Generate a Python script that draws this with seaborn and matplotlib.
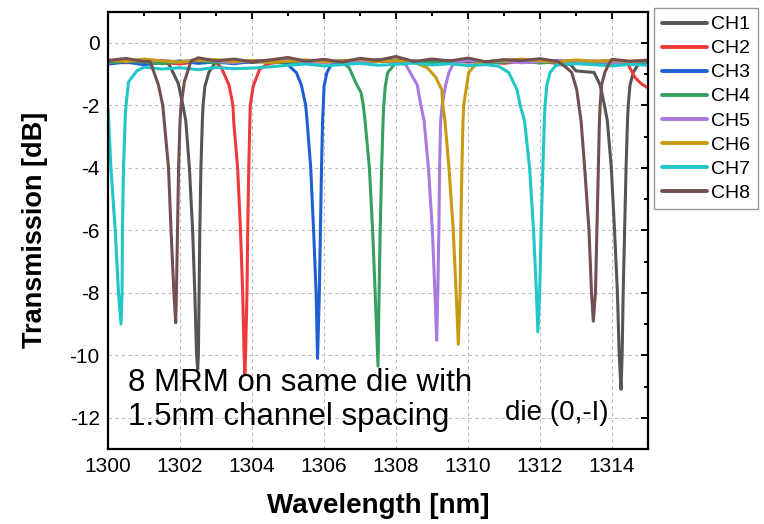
import numpy as np
import pandas as pd
import matplotlib
matplotlib.use("Agg")
import matplotlib.pyplot as plt
from matplotlib.ticker import MultipleLocator
import seaborn as sns

channels = ["CH1", "CH2", "CH3", "CH4", "CH5", "CH6", "CH7", "CH8"]
colors = ["#555555", "#ee3a3a", "#1f5fd4", "#36a060", "#a97ae0", "#c89a12", "#20c6c8", "#73504f"]

# baseline (out of resonance) transmission, sampled every 0.5 nm from 1300 to 1315
base_x = [1300.0 + 0.5 * i for i in range(31)]
base_y = {
    "CH1": [-0.62, -0.58, -0.66, -0.60, -0.55, -0.64, -0.60, -0.57, -0.63, -0.59, -0.66, -0.56, -0.61, -0.58, -0.64, -0.60,
            -0.55, -0.62, -0.59, -0.65, -0.58, -0.61, -0.56, -0.63, -0.60, -0.66, -0.62, -0.70, -0.65, -0.62, -0.60],
    "CH2": [-0.60, -0.64, -0.57, -0.62, -0.68, -0.59, -0.63, -0.55, -0.61, -0.66, -0.58, -0.62, -0.57, -0.64, -0.60, -0.56,
            -0.63, -0.59, -0.65, -0.57, -0.62, -0.60, -0.66, -0.58, -0.61, -0.64, -0.57, -0.63, -0.60, -0.62, -0.65],
    "CH3": [-0.68, -0.62, -0.70, -0.63, -0.58, -0.66, -0.61, -0.67, -0.60, -0.56, -0.63, -0.59, -0.65, -0.57, -0.61, -0.54,
            -0.60, -0.64, -0.57, -0.62, -0.58, -0.66, -0.60, -0.55, -0.63, -0.59, -0.64, -0.61, -0.57, -0.63, -0.60],
    "CH4": [-0.64, -0.59, -0.62, -0.67, -0.60, -0.57, -0.65, -0.61, -0.58, -0.63, -0.60, -0.66, -0.59, -0.62, -0.56, -0.64,
            -0.60, -0.58, -0.63, -0.61, -0.57, -0.64, -0.62, -0.59, -0.65, -0.60, -0.57, -0.62, -0.66, -0.60, -0.63],
    "CH5": [-0.58, -0.54, -0.60, -0.56, -0.62, -0.52, -0.59, -0.63, -0.57, -0.61, -0.55, -0.60, -0.64, -0.58, -0.62, -0.56,
            -0.61, -0.57, -0.63, -0.59, -0.55, -0.62, -0.58, -0.64, -0.60, -0.56, -0.61, -0.58, -0.63, -0.60, -0.57],
    "CH6": [-0.55, -0.60, -0.52, -0.58, -0.62, -0.56, -0.54, -0.60, -0.57, -0.63, -0.59, -0.55, -0.61, -0.58, -0.53, -0.60,
            -0.57, -0.62, -0.56, -0.59, -0.54, -0.60, -0.57, -0.52, -0.58, -0.61, -0.55, -0.59, -0.56, -0.60, -0.55],
    "CH7": [-0.80, -0.82, -0.78, -0.84, -0.80, -0.86, -0.79, -0.83, -0.81, -0.77, -0.72, -0.68, -0.74, -0.70, -0.66, -0.72,
            -0.69, -0.65, -0.71, -0.67, -0.73, -0.70, -0.66, -0.72, -0.68, -0.71, -0.67, -0.70, -0.74, -0.69, -0.72],
    "CH8": [-0.57, -0.50, -0.60, -0.53, -0.62, -0.48, -0.58, -0.52, -0.61, -0.55, -0.47, -0.59, -0.53, -0.62, -0.50, -0.56,
            -0.44, -0.60, -0.52, -0.58, -0.49, -0.61, -0.54, -0.57, -0.51, -0.60, -0.55, -0.62, -0.53, -0.59, -0.56],
}

# resonance dips: (wavelength list, transmission list) per dip
dips = {
    "CH1": [
        ([1301.70, 1301.95, 1302.08, 1302.16, 1302.26, 1302.35, 1302.41, 1302.46, 1302.49, 1302.51, 1302.53, 1302.55,
          1302.58, 1302.62, 1302.64, 1302.69, 1302.80, 1302.97],
         [-0.70, -1.30, -2.00, -2.50, -4.00, -6.00, -8.00, -10.00, -10.45, -10.00, -8.00, -6.00,
          -4.00, -2.50, -2.00, -1.40, -0.95, -0.65]),
        ([1312.85, 1313.00, 1313.50, 1313.67, 1313.79, 1313.87, 1313.98, 1314.07, 1314.15, 1314.20, 1314.25, 1314.28,
          1314.31, 1314.35, 1314.39, 1314.43, 1314.45, 1314.50, 1314.59, 1314.72],
         [-0.70, -0.90, -0.95, -1.35, -2.00, -2.50, -4.00, -6.00, -8.00, -10.00, -11.09, -10.00,
          -8.00, -6.00, -4.00, -2.50, -2.00, -1.35, -0.95, -0.70]),
    ],
    "CH2": [
        ([1303.15, 1303.36, 1303.47, 1303.49, 1303.60, 1303.68, 1303.74, 1303.78, 1303.80, 1303.82, 1303.86, 1303.88,
          1303.91, 1303.94, 1303.95, 1304.03, 1304.21, 1304.40],
         [-0.80, -1.35, -2.00, -2.50, -4.00, -6.00, -8.00, -10.00, -10.60, -10.00, -8.00, -6.00,
          -4.00, -2.50, -2.00, -1.40, -0.85, -0.70]),
        ([1314.45, 1314.63, 1314.80, 1315.00],
         [-0.70, -1.10, -1.30, -1.45]),
    ],
    "CH3": [
        ([1305.04, 1305.23, 1305.37, 1305.49, 1305.53, 1305.63, 1305.71, 1305.78, 1305.82, 1305.87, 1305.90, 1305.93,
          1305.96, 1305.98, 1306.00, 1306.08, 1306.20],
         [-0.75, -0.95, -1.35, -2.00, -2.50, -4.00, -6.00, -8.00, -10.10, -8.00, -6.00, -4.00,
          -2.50, -2.00, -1.40, -0.95, -0.70]),
    ],
    "CH4": [
        ([1306.70, 1306.89, 1307.03, 1307.09, 1307.14, 1307.26, 1307.35, 1307.42, 1307.50, 1307.53, 1307.56, 1307.60,
          1307.64, 1307.66, 1307.70, 1307.77, 1307.95],
         [-0.80, -1.30, -1.60, -2.00, -2.50, -4.00, -6.00, -8.00, -10.35, -8.00, -6.00, -4.00,
          -2.50, -2.00, -1.40, -0.95, -0.70]),
    ],
    "CH5": [
        ([1308.27, 1308.59, 1308.69, 1308.78, 1308.90, 1309.01, 1309.08, 1309.13, 1309.16, 1309.19, 1309.21, 1309.24,
          1309.28, 1309.38, 1309.47, 1309.60],
         [-0.70, -1.35, -2.00, -2.50, -4.00, -6.00, -8.00, -9.52, -8.00, -6.00, -4.00, -2.50,
          -2.00, -1.35, -0.95, -0.65]),
    ],
    "CH6": [
        ([1308.87, 1309.10, 1309.27, 1309.30, 1309.36, 1309.47, 1309.59, 1309.67, 1309.73, 1309.78, 1309.80, 1309.83,
          1309.86, 1309.88, 1310.02, 1310.20],
         [-0.80, -1.10, -1.50, -2.00, -2.50, -4.00, -6.00, -8.00, -9.65, -8.00, -6.00, -4.00,
          -2.50, -2.00, -0.95, -0.70]),
    ],
    "CH7": [
        ([1300.00, 1300.08, 1300.20, 1300.29, 1300.36, 1300.39, 1300.40, 1300.43, 1300.48, 1300.50, 1300.57, 1300.80],
         [-2.10, -4.00, -6.00, -8.00, -9.00, -8.00, -6.00, -4.00, -2.30, -2.00, -1.25, -0.90]),
        ([1310.85, 1311.13, 1311.36, 1311.45, 1311.57, 1311.71, 1311.82, 1311.90, 1311.94, 1311.99, 1312.03, 1312.08,
          1312.12, 1312.14, 1312.19, 1312.28, 1312.46],
         [-0.75, -0.95, -1.50, -2.00, -2.50, -4.00, -6.00, -8.00, -9.25, -8.00, -6.00, -4.00,
          -2.50, -2.00, -1.35, -0.95, -0.70]),
    ],
    "CH8": [
        ([1301.17, 1301.40, 1301.52, 1301.60, 1301.68, 1301.75, 1301.83, 1301.88, 1301.90, 1301.93, 1301.96, 1302.00,
          1302.03, 1302.12, 1302.30],
         [-0.60, -1.35, -2.00, -3.00, -4.00, -6.00, -8.00, -8.96, -8.00, -6.00, -4.00, -2.50,
          -2.00, -1.25, -0.60]),
        ([1312.74, 1312.88, 1313.02, 1313.08, 1313.14, 1313.24, 1313.36, 1313.43, 1313.48, 1313.54, 1313.58, 1313.62,
          1313.65, 1313.67, 1313.71, 1313.80, 1313.90],
         [-0.80, -0.95, -1.50, -2.00, -2.50, -4.00, -6.00, -8.00, -8.91, -8.00, -6.00, -4.00,
          -2.50, -2.00, -1.35, -0.95, -0.70]),
    ],
}

# long-form table: baseline samples outside the dips + the dip points
rows = []
for ch in channels:
    spans = [(d[0][0], d[0][-1]) for d in dips[ch]]
    for x, y in zip(base_x, base_y[ch]):
        if not any(a <= x <= b for a, b in spans):
            rows.append((ch, x, y))
    for xs, ys in dips[ch]:
        for x, y in zip(xs, ys):
            rows.append((ch, x, y))
df = pd.DataFrame(rows, columns=["channel", "wavelength", "transmission"])

sns.set_style("white")
plt.rcParams["font.family"] = ["Liberation Sans", "DejaVu Sans"]
plt.rcParams["axes.unicode_minus"] = False
plt.rcParams["text.color"] = "black"
plt.rcParams["axes.labelcolor"] = "black"
plt.rcParams["xtick.color"] = "black"
plt.rcParams["ytick.color"] = "black"

fig = plt.figure(figsize=(7.64, 5.24), dpi=100)
ax = fig.add_axes([0.1414, 0.1431, 0.7068, 0.8349])

sns.lineplot(data=df, x="wavelength", y="transmission", hue="channel", hue_order=channels,
             palette=colors, estimator=None, sort=True, linewidth=2.2, ax=ax)

ax.set_xlim(1300, 1315)
ax.set_ylim(-13, 1)
ax.xaxis.set_major_locator(MultipleLocator(2))
ax.xaxis.set_minor_locator(MultipleLocator(1))
ax.yaxis.set_major_locator(MultipleLocator(2))
ax.yaxis.set_minor_locator(MultipleLocator(1))
ax.grid(True, which="major", linestyle=(0, (3, 3)), color="#bdbdbd", linewidth=0.8)
ax.tick_params(which="both", direction="in", top=True, right=True, width=1.4, colors="black")
ax.tick_params(which="major", length=5)
ax.tick_params(which="minor", length=3)
ax.tick_params(axis="x", labelsize=15, pad=6)
ax.tick_params(axis="y", labelsize=15, pad=6)
for s in ax.spines.values():
    s.set_linewidth(1.6)
    s.set_color("black")

ax.set_xlabel("Wavelength [nm]", fontsize=20, fontweight="bold")
ax.set_ylabel("Transmission [dB]", fontsize=19.5, fontweight="bold")
ax.xaxis.set_label_coords(0.5, -0.1)
ax.yaxis.set_label_coords(-0.111, 0.5)

ax.text(0.037, 0.112, "8 MRM on same die with\n1.5nm channel spacing", transform=ax.transAxes,
        fontsize=22.5, ha="left", va="center", linespacing=1.2)
ax.text(0.831, 0.082, "die (0,-I)", transform=ax.transAxes, fontsize=20, ha="center", va="center",
        family=["Liberation Sans Narrow", "Liberation Sans"])

handles, labels = ax.get_legend_handles_labels()
ax.get_legend().remove()
leg = fig.legend(handles, labels, loc="upper left", bbox_to_anchor=(654 / 764, 1 - 8 / 524),
                 bbox_transform=fig.transFigure, borderaxespad=0, fancybox=False, framealpha=1,
                 edgecolor="#999999", fontsize=14, handlelength=2.3, handletextpad=0.25,
                 labelspacing=0.33, borderpad=0.4)
leg.get_frame().set_linewidth(1.0)
for h in leg.legend_handles:
    h.set_linewidth(2.8)

fig.savefig("out.png", dpi=100)
